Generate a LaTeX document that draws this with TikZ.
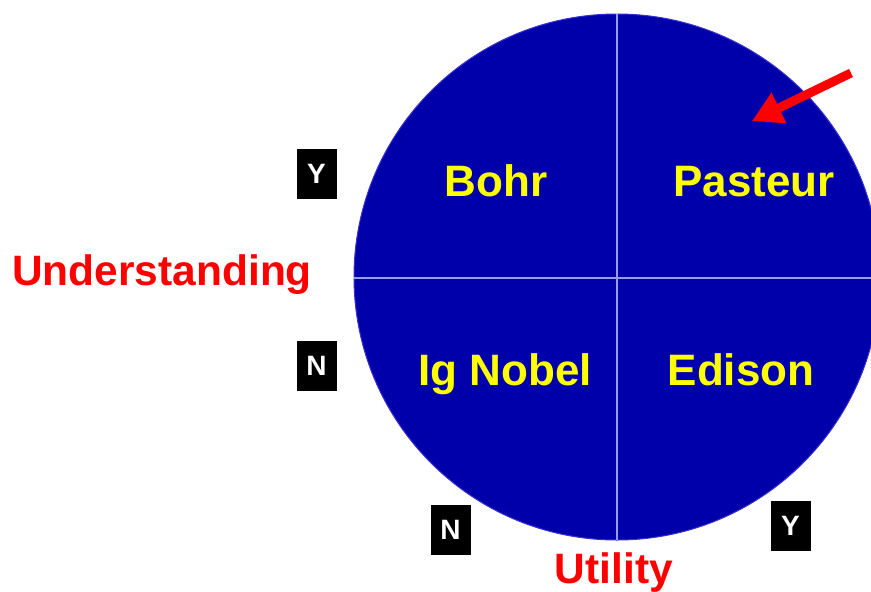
\documentclass[tikz,border=0pt]{standalone}
\usepackage{fontspec}
\setmainfont{Liberation Sans}
\usetikzlibrary{arrows.meta}
\definecolor{discblue}{HTML}{0000AA}
\definecolor{discedge}{HTML}{3A2FD0}
\definecolor{divider}{HTML}{9A9AE6}
\definecolor{labelred}{HTML}{FF0000}
\definecolor{nameyellow}{HTML}{FFFF00}
\tikzset{
  quadname/.style={text=nameyellow, font=\bfseries\fontsize{44}{50}\selectfont, anchor=base, inner sep=0pt},
  axislabel/.style={text=labelred, font=\bfseries\fontsize{42.5}{50}\selectfont, anchor=base, inner sep=0pt},
  ynbox/.style={fill=black, text=white, font=\bfseries\fontsize{28}{30}\selectfont, minimum width=40pt, minimum height=50pt, inner sep=0pt},
  bigarrow/.style={draw=labelred, line width=9pt, -{Triangle[length=30pt,width=32pt]}}
}
\begin{document}
\begin{tikzpicture}[x=1pt,y=-1pt]
\useasboundingbox (0,0) rectangle (871,592);
\begin{scope}
\clip (0,0) rectangle (871,592);
\fill[discblue, draw=discedge, line width=1pt] (617,277) circle (263);
\draw[divider, line width=1.2pt] (354,278) -- (880,278);
\draw[divider, line width=1.2pt] (617,14) -- (617,540);
\end{scope}
\node[quadname] (bohr) at (496,196) {Bohr};
\node[quadname] (pasteur) at (754,196) {Pasteur};
\node[quadname] (ignobel) at (505,385) {Ig Nobel};
\node[quadname] (edison) at (741,385) {Edison};
\node[axislabel] (understanding) at (162,285) {Understanding};
\node[axislabel] (utility) at (614,583) {Utility};
\node[ynbox] (yleft) at (316.5,174) {Y};
\node[ynbox] (nleft) at (316.5,365.5) {N};
\node[ynbox] (nbottom) at (450.5,530) {N};
\node[ynbox] (ybottom) at (790.5,526) {Y};
\coordinate (arrowstart) at (851,73);
\coordinate (arrowtip) at (752,121);
\draw[bigarrow] (arrowstart) -- (arrowtip);
\end{tikzpicture}
\end{document}
